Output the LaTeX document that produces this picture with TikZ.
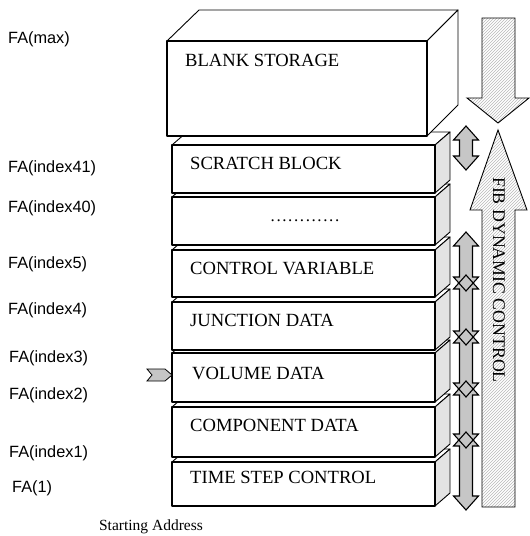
\documentclass[tikz,border=0pt]{standalone}
\usepackage{fontspec}
\setmainfont{Liberation Serif}
\newfontfamily\labfont{Liberation Sans}
\usetikzlibrary{patterns}
\begin{document}
\begin{tikzpicture}[x=1pt,y=-1pt,
  boxtext/.style={anchor=west,inner sep=0pt,font=\fontsize{18.6}{18.6}\selectfont},
  falabel/.style={anchor=west,inner sep=0pt,font=\labfont\fontsize{16.3}{16.3}\selectfont},
  frontface/.style={draw,fill=white,line width=1.2pt,line join=round},
  topface/.style={draw,fill=white,line width=0.9pt,line join=round},
  sideface/.style={draw,fill=gray!22,line width=0.9pt,line join=round},
  bigarrow/.style={draw,line width=0.9pt,line join=miter,preaction={fill=white},pattern=north east lines,pattern color=gray!55},
  dbledge/.style={draw,line width=1.1pt,line join=miter}]
\useasboundingbox (0,0) rectangle (530,536);

% stacked blocks, drawn from bottom to top
\foreach \t/\b/\nm in {462/506/ts,407/457/cd,353/402/vd,302/350/jd,250/297/cv,197/245/dt,145/193/sb}{
  \draw[topface] (172,\t) -- (187,\t-13) -- (450,\t-13) -- (435,\t) -- cycle;
  \draw[sideface] (435,\t) -- (450,\t-13) -- (450,\b-13) -- (435,\b) -- cycle;
  \draw[frontface] (172,\t) rectangle (435,\b);
}
% blank storage
\draw[topface] (167,41) -- (199,10) -- (458,10) -- (427,41) -- cycle;
\draw[topface] (427,41) -- (458,10) -- (458,105) -- (427,136) -- cycle;
\draw[frontface] (167,41) rectangle (427,136);

% block texts
\node[boxtext] (tBS) at (185,60) {BLANK STORAGE};
\node[boxtext] (tSB) at (190,163) {SCRATCH BLOCK};
\node[inner sep=0pt,font=\fontsize{17}{17}\selectfont] (tDT) at (305,221) {.\kern1.6pt.\kern1.6pt.\kern1.6pt.\kern1.6pt.\kern1.6pt.\kern1.6pt.\kern1.6pt.\kern1.6pt.\kern1.6pt.\kern1.6pt.\kern1.6pt.};
\node[boxtext] (tCV) at (190,268) {CONTROL VARIABLE};
\node[boxtext] (tJD) at (190,320) {JUNCTION DATA};
\node[boxtext] (tVD) at (192,373) {VOLUME DATA};
\node[boxtext] (tCD) at (190,425) {COMPONENT DATA};
\node[boxtext] (tTS) at (190,477) {TIME STEP CONTROL};

% left labels
\node[falabel] (fmax) at (8,39) {FA(max)};
\node[falabel] (f41) at (8,168) {FA(index41)};
\node[falabel] (f40) at (8,208) {FA(index40)};
\node[falabel] (f5) at (8,264) {FA(index5)};
\node[falabel] (f4) at (8,310) {FA(index4)};
\node[falabel] (f3) at (9,358) {FA(index3)};
\node[falabel] (f2) at (9,395) {FA(index2)};
\node[falabel] (f1) at (9,453) {FA(index1)};
\node[falabel] (fone) at (12,488) {FA(1)};
\node[anchor=center,inner sep=0pt,font=\fontsize{15.5}{15.5}\selectfont] (start) at (151,527) {Starting Address};

% small entry arrow
\draw[fill=gray!45,line width=0.8pt] (147,369) -- (165,369) -- (172,375) -- (165,381) -- (147,381) -- (152,375) -- cycle;

% double arrows (fills first, outlines after)
\def\dbl#1#2#3{(466,#1) -- (478.5,#1+#3) -- (472.5,#1+#3) -- (472.5,#2-#3) -- (478.5,#2-#3) -- (466,#2) -- (453.5,#2-#3) -- (459.5,#2-#3) -- (459.5,#1+#3) -- (453.5,#1+#3) -- cycle}
\foreach \a/\b in {126/170,232/291,275/345,329/397,381/448,432/510}{
  \fill[gray!45] \dbl{\a}{\b}{14};
}
\foreach \a/\b in {126/170,232/291,275/345,329/397,381/448,432/510}{
  \draw[dbledge] \dbl{\a}{\b}{14};
}

% big arrows
\draw[bigarrow] (482,18) -- (515,18) -- (515,98) -- (529,98) -- (498,123) -- (467,98) -- (482,98) -- cycle;
\draw[bigarrow] (498,130) -- (527,210) -- (515,210) -- (515,507) -- (482,507) -- (482,210) -- (470,210) -- cycle;
\node[rotate=-90,inner sep=0pt,font=\fontsize{17.8}{17.8}\selectfont] (fib) at (499,280) {FIB DYNAMIC CONTROL};
\end{tikzpicture}
\end{document}
